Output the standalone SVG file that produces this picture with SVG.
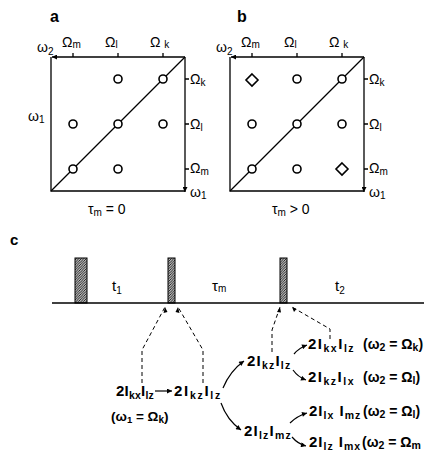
<svg xmlns="http://www.w3.org/2000/svg" width="424" height="453" viewBox="0 0 424 453">
<style>
.ln{stroke:#000;stroke-width:1.3;fill:none}
.dot{fill:#fff;stroke:#000;stroke-width:1.6}
.t{font-family:"Liberation Sans",Arial,sans-serif;fill:#000}
.g{font-size:14px}
.s{font-size:10px}
.op{font-size:15px;font-weight:bold}
.os{font-size:10.5px}
.pr{font-size:14px;font-weight:bold}
.dash{stroke:#000;stroke-width:1;fill:none;stroke-dasharray:4 3}
.arr{stroke:#000;stroke-width:1.2;fill:none}
.pulse{fill:url(#hatch);stroke:#000;stroke-width:1}
</style>
<defs>
<marker id="ah" viewBox="0 0 10 10" refX="10" refY="5" markerWidth="7" markerHeight="5" markerUnits="userSpaceOnUse" orient="auto"><path d="M0,0 L10,5 L0,10 z"/></marker>
<pattern id="hatch" patternUnits="userSpaceOnUse" width="2.5" height="2.5"><path d="M-1,1 L1,-1 M0,2.5 L2.5,0 M1.5,3.5 L3.5,1.5" stroke="#000" stroke-width="0.9"/></pattern>
</defs>

<g id="panel-a">
<text class="t" x="50" y="22" font-size="16" font-weight="bold">a</text>
<path class="ln" d="M51,57 V191 H185"/>
<path class="ln" d="M51,191 L185,57"/>
<path class="ln" d="M185,57 H52" marker-end="url(#ah)"/>
<path class="ln" d="M185,57 V192" marker-end="url(#ah)"/>
<path class="ln" d="M73,57 V53 M118,57 V53 M163,57 V53 M185,79 H189 M185,124 H189 M185,169 H189"/>
<circle class="dot" cx="118" cy="79" r="4"/>
<circle class="dot" cx="163" cy="79" r="4"/>
<circle class="dot" cx="73" cy="124" r="4"/>
<circle class="dot" cx="118" cy="124" r="4"/>
<circle class="dot" cx="163" cy="124" r="4"/>
<circle class="dot" cx="73" cy="169" r="4"/>
<circle class="dot" cx="118" cy="169" r="4"/>
<text class="t g" x="37" y="52">ω<tspan class="s" dy="3">2</tspan></text>
<text class="t g" x="62" y="47">Ω<tspan class="s" dy="1">m</tspan></text>
<text class="t g" x="105" y="47">Ω<tspan class="s" dy="1">l</tspan></text>
<text class="t g" x="150" y="47">Ω <tspan class="s" dy="1">k</tspan></text>
<text class="t g" x="190" y="84">Ω<tspan class="s" dy="2">k</tspan></text>
<text class="t g" x="190" y="129">Ω<tspan class="s" dy="2">l</tspan></text>
<text class="t g" x="190" y="173">Ω<tspan class="s" dy="2">m</tspan></text>
<text class="t g" x="28" y="121">ω<tspan class="s" dy="2">1</tspan></text>
<text class="t g" x="190" y="197">ω<tspan class="s" dy="2">1</tspan></text>
<text class="t g" x="88" y="214">τ<tspan class="s" dy="2">m</tspan><tspan dy="-2"> = 0</tspan></text>
</g>

<g id="panel-b">
<text class="t" x="237" y="22" font-size="16" font-weight="bold">b</text>
<path class="ln" d="M230,57 V191 H364"/>
<path class="ln" d="M230,191 L364,57"/>
<path class="ln" d="M364,57 H231" marker-end="url(#ah)"/>
<path class="ln" d="M364,57 V192" marker-end="url(#ah)"/>
<path class="ln" d="M252,57 V53 M297,57 V53 M342,57 V53 M364,79 H368 M364,124 H368 M364,169 H368"/>
<path class="dot" d="M252,74 L258,80 L252,86 L246,80 Z"/>
<path class="dot" d="M342,163 L348,169 L342,175 L336,169 Z"/>
<circle class="dot" cx="297" cy="79" r="4"/>
<circle class="dot" cx="342" cy="79" r="4"/>
<circle class="dot" cx="252" cy="124" r="4"/>
<circle class="dot" cx="297" cy="124" r="4"/>
<circle class="dot" cx="342" cy="124" r="4"/>
<circle class="dot" cx="252" cy="169" r="4"/>
<circle class="dot" cx="297" cy="169" r="4"/>
<text class="t g" x="216" y="52">ω<tspan class="s" dy="3">2</tspan></text>
<text class="t g" x="241" y="47">Ω<tspan class="s" dy="1">m</tspan></text>
<text class="t g" x="284" y="47">Ω<tspan class="s" dy="1">l</tspan></text>
<text class="t g" x="329" y="47">Ω <tspan class="s" dy="1">k</tspan></text>
<text class="t g" x="369" y="84">Ω<tspan class="s" dy="2">k</tspan></text>
<text class="t g" x="369" y="129">Ω<tspan class="s" dy="2">l</tspan></text>
<text class="t g" x="369" y="173">Ω<tspan class="s" dy="2">m</tspan></text>
<text class="t g" x="369" y="197">ω<tspan class="s" dy="2">1</tspan></text>
<text class="t g" x="272" y="214">τ<tspan class="s" dy="2">m</tspan><tspan dy="-2"> &gt; 0</tspan></text>
</g>

<g id="panel-c">
<text class="t" x="10" y="245" font-size="15" font-weight="bold">c</text>
<path d="M52,303 H424" stroke="#000" stroke-width="1.6"/>
<rect class="pulse" x="75" y="258" width="12" height="45"/>
<rect class="pulse" x="168" y="258" width="7" height="45"/>
<rect class="pulse" x="280" y="258" width="7" height="45"/>
<text class="t" x="112" y="291" font-size="15">t<tspan class="s" dy="3">1</tspan></text>
<text class="t" x="212" y="291" font-size="15">τ<tspan class="s" dy="1">m</tspan></text>
<text class="t" x="335" y="291" font-size="15">t<tspan class="s" dy="3">2</tspan></text>
</g>

<g id="connectors">
<path class="dash" d="M142,383 V350 L165,307" />
<path class="dash" d="M203,383 V350 L178,307" />
<path class="dash" d="M272,352 V330 L280,307" />
<path class="dash" d="M330,339 V329 L292,307" />
<path d="M165,307 l-1.5,6 l4,-1 z M178,307 l1.5,6 l-4,-1 z M280,307 l-3,5 l4,0.5 z M292,307 l2,5 l2.5,-3 z"/>
<path class="arr" d="M155,391 H172" marker-end="url(#ah)"/>
<path class="arr" d="M223,388 Q230,371 244,361" marker-end="url(#ah)"/>
<path class="arr" d="M221,403 Q227,420 241,430" marker-end="url(#ah)"/>
<path class="arr" d="M294,354 Q299,348 307,345" marker-end="url(#ah)"/>
<path class="arr" d="M293,370 Q298,377 306,380" marker-end="url(#ah)"/>
<path class="arr" d="M290,423 Q297,416 307,413" marker-end="url(#ah)"/>
<path class="arr" d="M292,437 Q298,444 306,446" marker-end="url(#ah)"/>
</g>

<g id="n-kxlz-left">
<text class="t op" x="116" y="396" letter-spacing="0.2">2I<tspan class="os" dy="3">kx</tspan><tspan dy="-3">I</tspan><tspan class="os" dy="3">lz</tspan></text>
<text class="t" x="111" y="421" font-size="13.5" font-weight="bold">(ω<tspan font-size="9.5" dy="2">1</tspan><tspan dy="-2"> = Ω</tspan><tspan font-size="10" dy="2">k</tspan><tspan dy="-2">)</tspan></text>
</g>
<g id="n-kzlz-mid">
<text class="t op" x="174" y="396" letter-spacing="1.7">2I<tspan class="os" dy="3">kz</tspan><tspan dy="-3">I</tspan><tspan class="os" dy="3">lz</tspan></text>
</g>
<g id="n-kzlz-upper">
<text class="t op" x="247" y="366" letter-spacing="1.2">2I<tspan class="os" dy="3">kz</tspan><tspan dy="-3">I</tspan><tspan class="os" dy="3">lz</tspan></text>
</g>
<g id="n-lzmz">
<text class="t op" x="244" y="436" letter-spacing="1.2">2I<tspan class="os" dy="3">lz</tspan><tspan dy="-3">I</tspan><tspan class="os" dy="3">mz</tspan></text>
</g>
<g id="n-kxlz-right">
<text class="t op" x="308" y="349" letter-spacing="1.5">2I<tspan class="os" dy="3">kx</tspan><tspan dy="-3">I</tspan><tspan class="os" dy="3">lz</tspan></text>
<text class="t pr" x="363" y="349">(ω<tspan class="os" dy="2">2</tspan><tspan dy="-2"> = Ω</tspan><tspan class="os" dy="2">k</tspan><tspan dy="-2">)</tspan></text>
</g>
<g id="n-kzlx">
<text class="t op" x="308" y="382" letter-spacing="1.5">2I<tspan class="os" dy="3">kz</tspan><tspan dy="-3">I</tspan><tspan class="os" dy="3">lx</tspan></text>
<text class="t pr" x="363" y="382">(ω<tspan class="os" dy="2">2</tspan><tspan dy="-2"> = Ω</tspan><tspan class="os" dy="2">l</tspan><tspan dy="-2">)</tspan></text>
</g>
<g id="n-lxmz">
<text class="t op" x="309" y="416" letter-spacing="1">2I<tspan class="os" dy="3">lx</tspan><tspan dy="-3"> I</tspan><tspan class="os" dy="3">mz</tspan></text>
<text class="t pr" x="363" y="416">(ω<tspan class="os" dy="2">2</tspan><tspan dy="-2"> = Ω</tspan><tspan class="os" dy="2">l</tspan><tspan dy="-2">)</tspan></text>
</g>
<g id="n-lzmx">
<text class="t op" x="309" y="447" letter-spacing="1">2I<tspan class="os" dy="2.5">lz</tspan><tspan dy="-2.5"> I</tspan><tspan class="os" dy="2.5">mx</tspan></text>
<text class="t pr" x="362" y="447">(ω<tspan class="os" dy="2">2</tspan><tspan dy="-2"> = Ω</tspan><tspan class="os" dy="2">m</tspan></text>
</g>
</svg>
